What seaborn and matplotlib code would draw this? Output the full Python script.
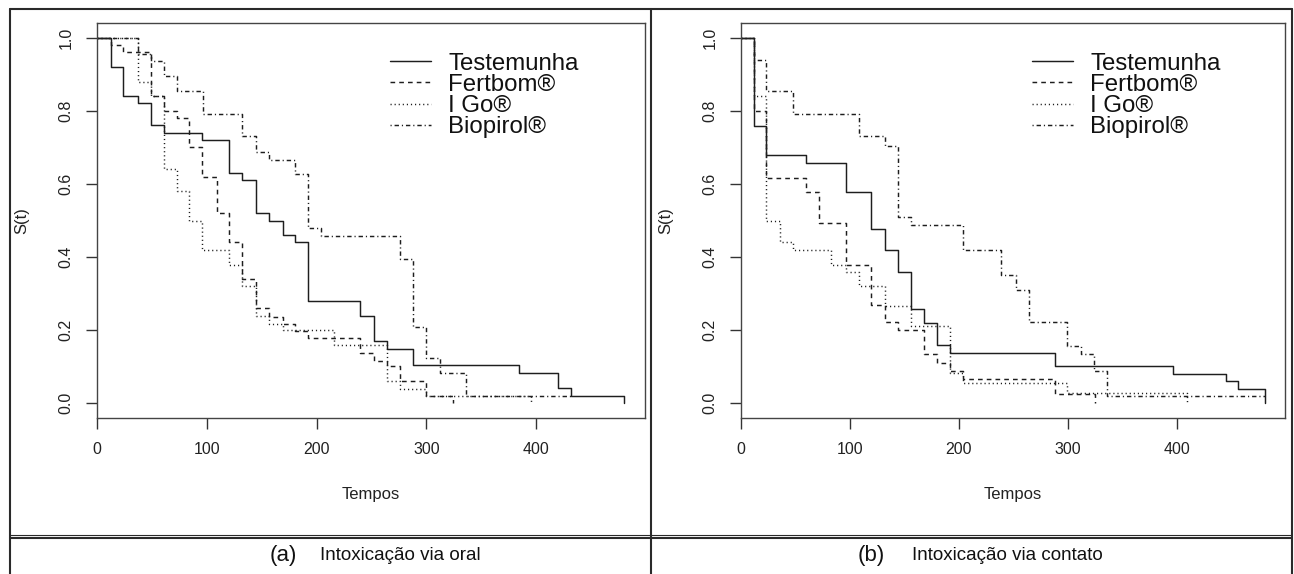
import matplotlib
matplotlib.use("Agg")
import matplotlib.pyplot as plt
from matplotlib.lines import Line2D
import seaborn as sns

# Kaplan-Meier estimates: event times and survival after each step
groups = ["Testemunha", "Fertbom®", "I Go®", "Biopirol®"]

# (a) oral intoxication
oral_testemunha_t = [0, 13, 24, 37, 49, 61, 96, 120, 132, 145, 157, 169, 180, 192, 240, 252, 264, 288, 384, 420, 432, 480]
oral_testemunha_s = [1.0, 0.92, 0.84, 0.82, 0.76, 0.74, 0.72, 0.63, 0.61, 0.52, 0.50, 0.46, 0.44, 0.28, 0.24, 0.17, 0.15, 0.106, 0.084, 0.041, 0.02, 0.0]
oral_fertbom_t = [0, 13, 24, 49, 61, 73, 84, 96, 109, 120, 132, 145, 157, 169, 180, 192, 240, 252, 264, 276, 300, 324]
oral_fertbom_s = [1.0, 0.98, 0.96, 0.84, 0.80, 0.78, 0.70, 0.62, 0.52, 0.44, 0.34, 0.26, 0.237, 0.216, 0.199, 0.18, 0.137, 0.117, 0.102, 0.061, 0.02, 0.0]
oral_igo_t = [0, 37, 49, 61, 73, 84, 96, 120, 132, 145, 157, 169, 216, 264, 276, 300, 395]
oral_igo_s = [1.0, 0.88, 0.84, 0.64, 0.58, 0.50, 0.42, 0.378, 0.32, 0.239, 0.216, 0.20, 0.159, 0.061, 0.038, 0.02, 0.0]
oral_biopirol_t = [0, 37, 49, 61, 73, 97, 132, 145, 157, 180, 192, 204, 276, 288, 300, 312, 336, 432]
oral_biopirol_s = [1.0, 0.955, 0.937, 0.894, 0.853, 0.792, 0.732, 0.687, 0.665, 0.626, 0.48, 0.457, 0.395, 0.209, 0.125, 0.082, 0.02, 0.02]

# (b) contact intoxication
cont_testemunha_t = [0, 12, 23, 60, 96, 119, 132, 144, 156, 168, 180, 192, 288, 396, 445, 456, 481]
cont_testemunha_s = [1.0, 0.758, 0.68, 0.658, 0.577, 0.478, 0.42, 0.36, 0.259, 0.219, 0.16, 0.138, 0.102, 0.081, 0.061, 0.04, 0.0]
cont_fertbom_t = [0, 12, 23, 60, 72, 96, 119, 132, 144, 168, 180, 192, 204, 288, 325]
cont_fertbom_s = [1.0, 0.80, 0.617, 0.579, 0.492, 0.379, 0.268, 0.223, 0.20, 0.134, 0.111, 0.088, 0.066, 0.025, 0.0]
cont_igo_t = [0, 12, 23, 36, 48, 83, 96, 108, 132, 156, 192, 204, 299, 409]
cont_igo_s = [1.0, 0.84, 0.50, 0.44, 0.42, 0.379, 0.36, 0.32, 0.265, 0.212, 0.082, 0.057, 0.029, 0.0]
cont_biopirol_t = [0, 12, 23, 48, 108, 132, 144, 156, 204, 239, 252, 264, 299, 312, 324, 336, 481]
cont_biopirol_s = [1.0, 0.938, 0.855, 0.792, 0.73, 0.705, 0.509, 0.487, 0.42, 0.352, 0.31, 0.223, 0.157, 0.134, 0.088, 0.02, 0.02]

x_ticks = [0, 100, 200, 300, 400]
y_ticks = [0.0, 0.2, 0.4, 0.6, 0.8, 1.0]
x_label = "Tempos"
y_label = "S(t)"
captions = [("(a)", "Intoxicação via oral"), ("(b)", "Intoxicação via contato")]

panels = [
    [(oral_testemunha_t, oral_testemunha_s), (oral_fertbom_t, oral_fertbom_s),
     (oral_igo_t, oral_igo_s), (oral_biopirol_t, oral_biopirol_s)],
    [(cont_testemunha_t, cont_testemunha_s), (cont_fertbom_t, cont_fertbom_s),
     (cont_igo_t, cont_igo_s), (cont_biopirol_t, cont_biopirol_s)],
]

line_styles = ["-", (0, (3.2, 2.8)), (0, (0.8, 2.0)), (0, (0.8, 2.0, 3.0, 2.0))]
ink = "#1e1e1e"

sns.set_style("ticks")
plt.rcParams["font.family"] = ["Liberation Sans", "DejaVu Sans"]

W, H = 1294, 574
fig = plt.figure(figsize=(W / 100, H / 100), dpi=100)
fig.patch.set_facecolor("white")


def px_rect(l, t, r, b):
    return [l / W, 1 - b / H, (r - l) / W, (b - t) / H]


axes = [fig.add_axes(px_rect(97, 23, 645, 418)), fig.add_axes(px_rect(741, 23, 1285, 418))]

for ax, curves in zip(axes, panels):
    for name, (t, s), ls in zip(groups, curves, line_styles):
        sns.lineplot(x=t, y=s, ax=ax, estimator=None, sort=False,
                     drawstyle="steps-post", color=ink, linestyle=ls,
                     linewidth=1.05, label=name)
    ax.set_xlim(0, 499.2)
    ax.set_ylim(-0.04, 1.04)
    ax.set_xticks(x_ticks)
    ax.set_yticks(y_ticks)
    ax.set_yticklabels([f"{v:.1f}" for v in y_ticks], rotation=90, va="center")
    ax.tick_params(length=8, width=1, pad=9, labelsize=11.5, color="#333333", labelcolor="#222222")
    for sp in ax.spines.values():
        sp.set_visible(True)
        sp.set_color("#444444")
        sp.set_linewidth(1.0)
    ax.set_xlabel(x_label, fontsize=12, color="#222222")
    ax.set_ylabel(y_label, fontsize=12, color="#222222")
    ax.xaxis.label.set_va("center")
    ax.yaxis.label.set_va("center")
    bbox = ax.get_position()
    ax_w_px = bbox.width * W
    ax_h_px = bbox.height * H
    ax.xaxis.set_label_coords(0.5, -77 / ax_h_px)
    ax.yaxis.set_label_coords(-75 / ax_w_px, 0.5)
    leg = ax.legend(loc="upper left", bbox_to_anchor=(0.535, 0.925), frameon=False,
                    fontsize=17.3, handlelength=1.7, handletextpad=0.72,
                    labelspacing=-0.03, borderpad=0, borderaxespad=0)
    for txt in leg.get_texts():
        txt.set_color("#111111")

# panel frame
frame_kw = dict(color="#2a2a2a", linewidth=1.5, transform=fig.transFigure)


def hline(y, x0, x1, **kw):
    fig.add_artist(Line2D([x0 / W, x1 / W], [1 - y / H, 1 - y / H], **kw))


def vline(x, y0, y1, **kw):
    fig.add_artist(Line2D([x / W, x / W], [1 - y0 / H, 1 - y1 / H], **kw))


hline(8.5, 9.5, 1291.5, **frame_kw)
hline(534.5, 9.5, 1291.5, color="#2a2a2a", linewidth=0.8, transform=fig.transFigure)
hline(538, 9.5, 1291.5, **frame_kw)
for x in (9.5, 651, 1291.5):
    vline(x, 8.5, 574, **frame_kw)

# captions under each panel
for (tag, text), (xa, xt) in zip(captions, [(283, 320), (871, 912)]):
    fig.text(xa / W, 1 - 556 / H, tag, ha="center", va="center", fontsize=16, color="#111111")
    fig.text(xt / W, 1 - 556 / H, text, ha="left", va="center", fontsize=13.5,
             color="#111111")

fig.savefig("out.png", dpi=100)
